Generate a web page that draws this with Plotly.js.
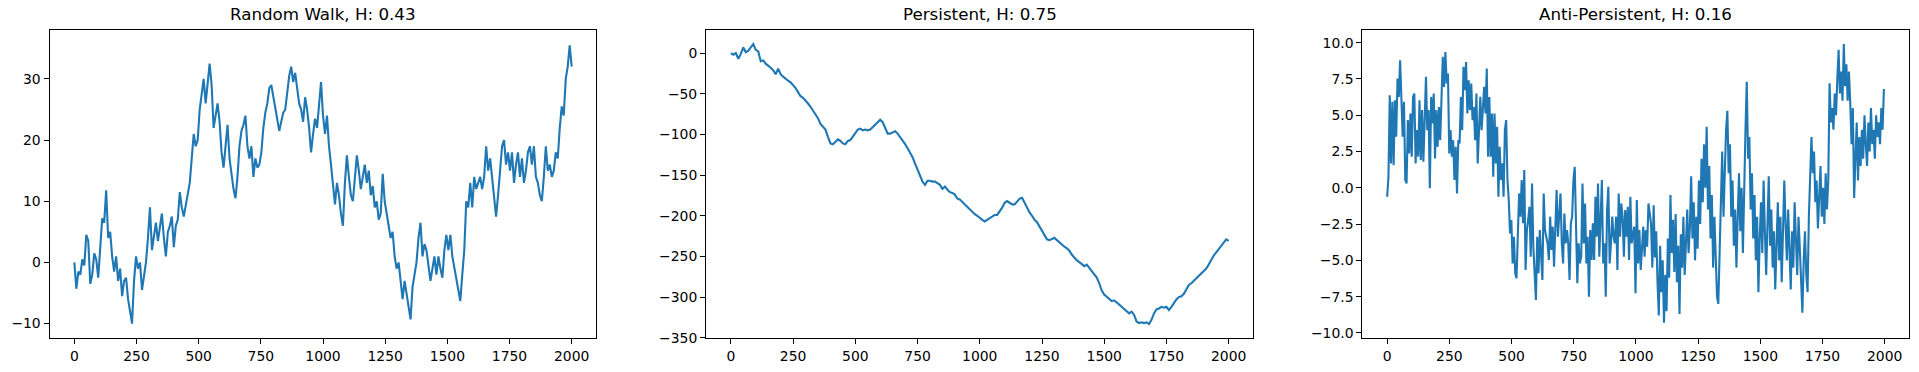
<!DOCTYPE html>
<html>
<head>
<meta charset="utf-8">
<script src="https://cdn.plot.ly/plotly-3.0.1.min.js"></script>
<style>
html,body{margin:0;padding:0;background:#fff;}
#chart{width:1919px;height:372px;}
</style>
</head>
<body>
<div id="chart"></div>
<script>
// Titles
const titles = ["Random Walk, H: 0.43", "Persistent, H: 0.75", "Anti-Persistent, H: 0.16"];

// Series 1: Random walk (sampled every 8 steps)
const randomWalk = [0,-4.3,-1.5,-2,0.5,-0.5,4.5,3.5,-3.5,-2,
1.5,0.5,-2.5,2,7.2,6.5,11.8,4,5,1,
-1.5,1,-3,-1,-5.5,-3,-2.5,-6,-8,-10,
-3,1,-1,0,-4.5,-2,0,4,9,2,
4,6.5,3.5,5.5,8,4,1,5,6,7.5,
2.5,6,7,11.5,9,7.5,9.5,11,13,17,
21,19,20,25,28,30,26,30,32.5,29,
22,24,26,23,18,15.5,19,22.5,17,14,
12,10.5,14,19,21.5,22.5,24,19,17,19,
14,17,15.5,16,18,22,24.5,26,28.5,29,
27,25,23.5,21.5,23,24.5,25,28,30.5,32,
29.5,31,28,26,25,23,27,25,22,18,
21,23.5,22,26,29.5,24,21,24,19,16,
13,9.5,13,11,8,6,13,17.5,14,11,
10,14,17.5,15,12,14,16,13,15,11,12.5,
9,10,7,8,14.5,10,8,6,4,5,
1,-1,0,-3,-6,-3,-5,-7,-9.3,-4,
-2,0,4,6.5,1,3,2,-1,-3,-1,
1,-2,1,-1,-2.5,2,4.5,2,4.5,1,
-1,-3,-5,-6.3,-2,2,10,9,13,9,
14,12,13,14,12,14,19,15,17,14,
10,7.5,11,15,19,20,16,18,15,18,
13,16,18,14,17,13,15,18,19,16,
19,14,13,11,10,14,19,15,16,14,
15,18,17,22,25.5,24,30,32,35.5,32];

// Series 2: Persistent (sampled every 10 steps)
const persistent = [0,-2,0,-7,-1,7,1,3,7,11,
4,2,-10,-9,-13,-15,-18,-21,-26,-19,
-26,-29,-32,-34,-36,-39,-43,-48,-53,-55,
-58,-62,-66,-71,-75,-80,-87,-90,-94,-103,
-111,-112,-109,-106,-108,-111,-112,-108,-107,-103,
-99,-94,-93,-95,-94,-95,-94,-91,-89,-85,
-82,-85,-92,-99,-99,-97,-96,-99,-103,-107,
-112,-117,-122,-128,-136,-144,-150,-158,-162,-157,
-157,-158,-158,-160,-162,-167,-164,-168,-171,-172,
-174,-179,-180,-183,-186,-190,-193,-196,-198,-200,
-203,-205,-207,-205,-202,-200,-199,-199,-195,-190,
-184,-182,-184,-186,-186,-183,-179,-178,-184,-192,
-196,-200,-205,-208,-213,-218,-224,-229,-230,-228,
-227,-230,-233,-236,-238,-240,-243,-248,-252,-255,
-257,-260,-262,-260,-264,-268,-272,-276,-283,-292,
-297,-300,-303,-305,-304,-306,-309,-312,-315,-318,
-320,-318,-322,-330,-332,-331,-332,-331,-333,-328,
-320,-315,-314,-312,-313,-312,-316,-312,-307,-303,
-300,-299,-296,-290,-285,-283,-280,-276,-273,-270,
-267,-265,-260,-254,-249,-245,-241,-237,-233,-229,
-231];

// Series 3: Anti-persistent (sampled every 5.2 steps)
const antiPersistent = [-0.62,0.76,6.38,1.68,5.92,1.56,6.03,3.51,7.52,6.26,
8.79,6.26,3.51,5.92,0.53,0.30,4.66,2.37,5.12,2.14,
6.26,6.49,1.68,3.97,2.14,6.03,1.91,5.35,1.79,4.66,
7.64,3.97,5.35,-0.04,6.26,4.43,6.49,2.02,5.35,2.82,
5.57,3.28,5.80,9.02,6.95,9.36,7.18,7.87,2.37,3.97,
2.14,3.28,0.53,2.82,-0.39,3.28,3.05,6.26,3.97,8.33,
6.72,8.67,5.12,7.41,5.35,7.18,4.66,5.57,3.28,6.49,
1.68,3.97,6.26,3.97,5.35,6.95,5.12,8.21,2.14,6.26,
2.14,5.12,0.76,5.12,1.68,4.20,-0.62,2.82,0.53,1.68,
-0.62,3.97,4.66,0.53,-0.85,-3.14,-2.22,-5.21,-3.37,-5.89,
-6.24,-3.83,-0.39,-1.99,0.53,-2.45,1.22,-5.66,-2.91,-2.22,
-1.31,-4.75,0.30,-4.06,-5.66,-7.73,-3.37,-5.89,-2.91,-5.21,
-6.35,-0.39,-2.91,-3.37,-3.83,-4.98,-1.99,-4.29,-2.68,-5.44,
-2.91,-0.16,-3.37,-1.77,-0.39,-3.83,-5.21,-1.77,-3.83,-2.91,
-3.83,-6.35,-2.45,-1.99,0.53,1.45,-2.91,-6.58,-3.83,-5.21,
-4.75,0.30,-3.83,-1.08,-5.21,-3.37,-7.50,-2.91,-4.98,-2.45,
-4.98,-0.62,-3.37,0.30,-4.75,-1.08,0.53,-5.21,-3.83,-7.50,
-1.54,0.07,-5.21,-3.83,-1.99,-3.37,-3.83,-1.99,-5.66,-0.39,
-3.37,-1.08,-1.99,-4.75,-1.54,-3.37,-1.31,-4.98,-0.62,-3.83,
-3.37,-2.68,-7.27,-0.85,-5.21,-2.91,-5.66,-3.83,-2.68,-4.75,
-2.91,-4.06,-1.08,-1.77,
-2.5,-5.5,-1.2,-4.8,-3.0,-6.5,-8.8,-4.0,-7.2,-5.0,-9.3,-6.0,-8.5,-3.5,-6.2,-0.5,-4.5,-2.2,-5.8,-1.8,-6.5,-4.0,-8.7,-3.2,-5.5,-2.0,-6.0,-3.8,-1.5,-4.5,-2.8,0.8,-3.5,-1.0,-5.0,-2.0,-4.2,
0.5,-2.5,2.0,-1.0,3.0,0.0,4.2,-1.5,1.5,-3.5,-0.5,-5.5,-2.0,-4.5,-7.5,-8.0,-4.0,
-1.5,2.5,-2.0,1.5,4.0,5.3,1.0,3.0,-2.0,0.5,-4.0,-1.5,-5.5,-2.0,1.0,-3.0,0.0,-4.5,1.5,
4.0,7.3,2.0,3.5,-1.5,1.0,-3.5,-0.5,-5.0,-2.0,-7.2,-3.5,
-1.0,-4.5,0.5,-3.0,-6.0,-2.5,0.8,-4.0,-1.5,-5.5,-3.0,-7.0,-4.0,-1.0,-5.0,-2.0,-6.5,-3.5,0.5,-2.5,-5.0,-1.5,-4.5,-7.0,-3.0,-5.5,-1.0,-4.0,-6.0,-2.0,-4.5,
-6.5,-8.6,-5.0,-3.0,-6.0,-7.2,-2.0,0.5,
3.5,1.0,2.5,-1.0,0.5,-2.8,-0.5,1.5,-2.0,0.0,-2.5,1.0,-1.5,0.5,
7.2,4.5,5.5,4.0,6.5,5.0,7.5,9.5,6.5,8.0,6.0,9.9,7.0,8.5,6.0,8.0,5.8,
3.0,5.5,-0.7,2.0,4.5,0.5,3.5,1.5,4.0,2.0,5.0,3.0,1.5,4.5,2.5,5.5,3.0,4.0,2.0,5.0,3.5,4.5,3.0,5.5,4.0,6.8];

const xTicks = [0,250,500,750,1000,1250,1500,1750,2000];
const steps = [8, 10, 5.2];
const series = [randomWalk, persistent, antiPersistent];
const yRanges = [[-12.35,38.0],[-350.3,28.4],[-10.35,10.87]];
const yDticks = [10, 50, 2.5];
const yFormats = ["", "", ".1f"];

const W = 1919;
const domains = [[49.5/W, 596.3/W],[706/W, 1253.3/W],[1362.3/W, 1909.3/W]];

const color = "#1f77b4";
const font = {family: "DejaVu Sans, sans-serif", size: 13.9, color: "#000"};

const traces = series.map((ys, i) => ({
  type: "scatter", mode: "lines",
  y: ys, x0: 0, dx: steps[i],
  xaxis: i === 0 ? "x" : "x" + (i + 1),
  yaxis: i === 0 ? "y" : "y" + (i + 1),
  line: {color: color, width: 2.1},
  hoverinfo: "skip"
}));

const layout = {
  width: 1919, height: 372,
  margin: {l: 0, r: 0, t: 30, b: 34},
  paper_bgcolor: "#fff", plot_bgcolor: "#fff",
  showlegend: false,
  font: font,
  annotations: []
};

for (let i = 0; i < 3; i++) {
  const sx = i === 0 ? "" : String(i + 1);
  layout["xaxis" + sx] = {
    domain: domains[i], anchor: "y" + sx,
    range: [-99.95, 2098.95],
    tickvals: xTicks, ticktext: xTicks.map(String),
    showgrid: false, zeroline: false,
    showline: true, linecolor: "#000", linewidth: 1, mirror: true,
    ticks: "outside", ticklen: 5, tickwidth: 1, tickcolor: "#000",
    tickfont: font, automargin: false
  };
  layout["yaxis" + sx] = {
    domain: [0, 1], anchor: "x" + sx,
    range: yRanges[i], dtick: yDticks[i], tick0: 0, tickformat: yFormats[i],
    showgrid: false, zeroline: false,
    showline: true, linecolor: "#000", linewidth: 1, mirror: true,
    ticks: "outside", ticklen: 5, tickwidth: 1, tickcolor: "#000",
    tickfont: font, automargin: false
  };
  layout.annotations.push({
    text: titles[i], xref: "paper", yref: "paper",
    x: (domains[i][0] + domains[i][1]) / 2, y: 1,
    xanchor: "center", yanchor: "bottom", yshift: 4, showarrow: false,
    font: {family: "DejaVu Sans, sans-serif", size: 16.7, color: "#000"}
  });
}

Plotly.newPlot("chart", traces, layout, {staticPlot: true, displayModeBar: false});
</script>
</body>
</html>
